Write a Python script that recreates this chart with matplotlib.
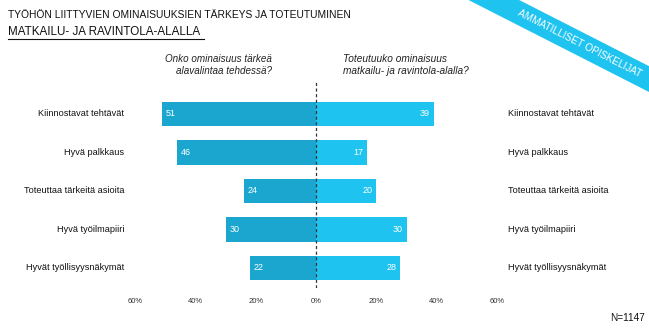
import numpy as np
import matplotlib
matplotlib.use('Agg')
import matplotlib.pyplot as plt
from matplotlib.patches import Polygon

# data
categories = ['Kiinnostavat tehtävät', 'Hyvä palkkaus', 'Toteuttaa tärkeitä asioita',
              'Hyvä työilmapiiri', 'Hyvät työllisyysnäkymät']
important = [51, 46, 24, 30, 22]     # left side
realized = [39, 17, 20, 30, 28]      # right side
ticks = [-60, -40, -20, 0, 20, 40, 60]
tick_labels = ['60%', '40%', '20%', '0%', '20%', '40%', '60%']

plt.rcParams['font.family'] = ['Liberation Sans', 'DejaVu Sans']

W, H = 649, 330
fig = plt.figure(figsize=(W / 100, H / 100), dpi=100)

def fx(px):
    return px / W

def fy(py):
    return 1 - py / H

# axes box in pixels: x 135..497, y 80..288
ax = fig.add_axes([fx(135), fy(288), fx(497) - fx(135), fy(80) - fy(288)])
ax.set_xlim(-60, 60)
ax.set_ylim(4.52, -0.88)

dark = '#1aa6cf'
light = '#1fc3f0'
y = np.arange(len(categories))
ax.barh(y, [-v for v in important], height=0.64, color=dark)
ax.barh(y, realized, height=0.64, color=light)
ax.axvline(0, color='#333333', lw=0.9, ls=(0, (2.5, 2)))

for i, (a, b) in enumerate(zip(important, realized)):
    ax.text(-a + 1.3, i, str(a), color='white', fontsize=6.5, va='center', ha='left')
    ax.text(b - 1.3, i, str(b), color='white', fontsize=6.5, va='center', ha='right')
    ax.text(-63.5, i, categories[i], fontsize=6.6, va='center', ha='right', color='#111111')
    ax.text(63.5, i, categories[i], fontsize=6.6, va='center', ha='left', color='#111111')

ax.set_xticks(ticks)
ax.set_xticklabels(tick_labels, fontsize=5.5, color='#333333')
ax.tick_params(axis='x', length=0, pad=7)
ax.set_yticks([])
for s in ax.spines.values():
    s.set_visible(False)

# titles
fig.text(fx(8), fy(15), 'TYÖHÖN LIITTYVIEN OMINAISUUKSIEN TÄRKEYS JA TOTEUTUMINEN',
         fontsize=7.4, va='center', ha='left', color='#111111')
fig.text(fx(8), fy(32), 'MATKAILU- JA RAVINTOLA-ALALLA',
         fontsize=8.4, va='center', ha='left', color='#111111')
fig.add_artist(plt.Line2D([fx(8), fx(204)], [fy(39), fy(39)], color='#111111', lw=0.8))

fig.text(fx(272), fy(65), 'Onko ominaisuus tärkeä\nalavalintaa tehdessä?',
         fontsize=7.1, style='italic', ha='right', va='center', color='#222222', linespacing=1.2)
fig.text(fx(343), fy(65), 'Toteutuuko ominaisuus\nmatkailu- ja ravintola-alalla?',
         fontsize=7.3, style='italic', ha='left', va='center', color='#222222', linespacing=1.2)

fig.text(fx(645), fy(318), 'N=1147', fontsize=7.2, ha='right', va='center', color='#111111')

# corner ribbon
cx, cy, deg, hw = 590, 49, 27, 11.5
ang = np.deg2rad(deg)
d = np.array([np.cos(ang), np.sin(ang)])
n = np.array([-np.sin(ang), np.cos(ang)])
c = np.array([cx, cy])
pts = [c - 200 * d - hw * n, c + 200 * d - hw * n, c + 200 * d + hw * n, c - 200 * d + hw * n]
pts = [(fx(p[0]), fy(p[1])) for p in pts]
fig.add_artist(Polygon(pts, closed=True, transform=fig.transFigure, color=light, lw=0))
tc = c - 12 * d
fig.text(fx(tc[0]), fy(tc[1]), 'AMMATILLISET OPISKELIJAT', rotation=-deg, rotation_mode='anchor',
         ha='center', va='center', color='white', fontsize=7.2)

fig.savefig('out.png', dpi=100)
